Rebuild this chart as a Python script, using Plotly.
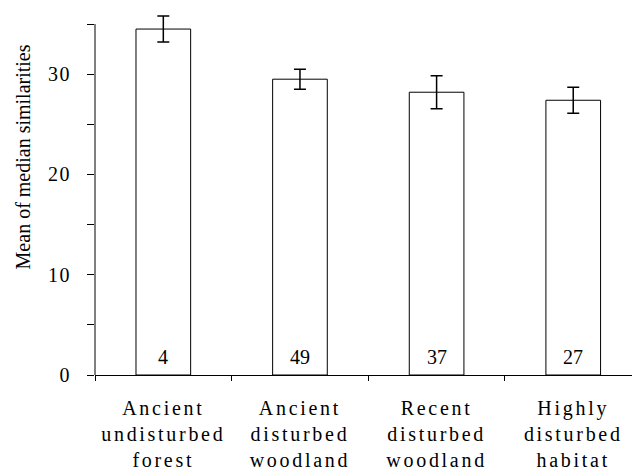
import plotly.graph_objects as go

categories = ["Ancient<br>undisturbed<br>forest", "Ancient<br>disturbed<br>woodland",
              "Recent<br>disturbed<br>woodland", "Highly<br>disturbed<br>habitat"]
means = [34.5, 29.5, 28.2, 27.4]
errors = [1.3, 1.0, 1.65, 1.3]
counts = ["4", "49", "37", "27"]
y_tickvals = [0, 5, 10, 15, 20, 25, 30, 35]
y_ticktext = ["0", "", "10", "", "20", "", "30", ""]
y_title = "Mean of median similarities"

font = "Liberation Serif, Times New Roman, serif"

fig = go.Figure()
fig.add_trace(go.Bar(
    x=categories, y=means, width=0.4,
    marker=dict(color="white", line=dict(color="black", width=1)),
    error_y=dict(type="data", array=errors, color="black", thickness=1.5, width=6),
    cliponaxis=False, showlegend=False,
))
for c, n in zip(categories, counts):
    fig.add_annotation(x=c, y=0, text=n, showarrow=False, yanchor="bottom", yshift=5,
                       font=dict(family=font, size=20, color="black"))

# y axis title placed as rotated annotation
fig.add_annotation(xref="paper", yref="y", x=0, y=21.7, xshift=-72, text=y_title,
                   textangle=-90, showarrow=False, xanchor="center", yanchor="middle",
                   font=dict(family=font, size=20, color="black"))

# y axis line from 0 to 35 only
fig.add_shape(type="line", xref="paper", yref="y", x0=0, x1=0, y0=0, y1=35,
              line=dict(color="black", width=1))

fig.update_layout(
    width=632, height=471,
    margin=dict(l=95, r=0, t=9, b=96, autoexpand=False),
    plot_bgcolor="white", paper_bgcolor="white",
    font=dict(family=font, size=20, color="black"),
)
fig.update_xaxes(
    type="category", range=[-0.5, 3.43], tickson="boundaries",
    ticks="outside", ticklen=5, tickcolor="black", tickwidth=1,
    showline=True, linecolor="black", linewidth=1, showgrid=False,
    tickfont=dict(family=font, size=20), automargin=False, ticklabelstandoff=15,
)
fig.update_yaxes(
    range=[0, 36.5], tickvals=y_tickvals, ticktext=y_ticktext,
    ticks="outside", ticklen=7, tickcolor="black", tickwidth=1,
    showline=False, showgrid=False, zeroline=False,
    tickfont=dict(family=font, size=20), automargin=False, ticklabelstandoff=12,
)
post = ("document.body.style.margin='0';"
        "document.querySelectorAll('.xtick text').forEach(function(t){t.style.letterSpacing='2.7px';});"
        "document.querySelectorAll('.ytick text').forEach(function(t){t.style.letterSpacing='1.5px';});")
fig.write_html("out.html", post_script=post, config={"displayModeBar": False})
